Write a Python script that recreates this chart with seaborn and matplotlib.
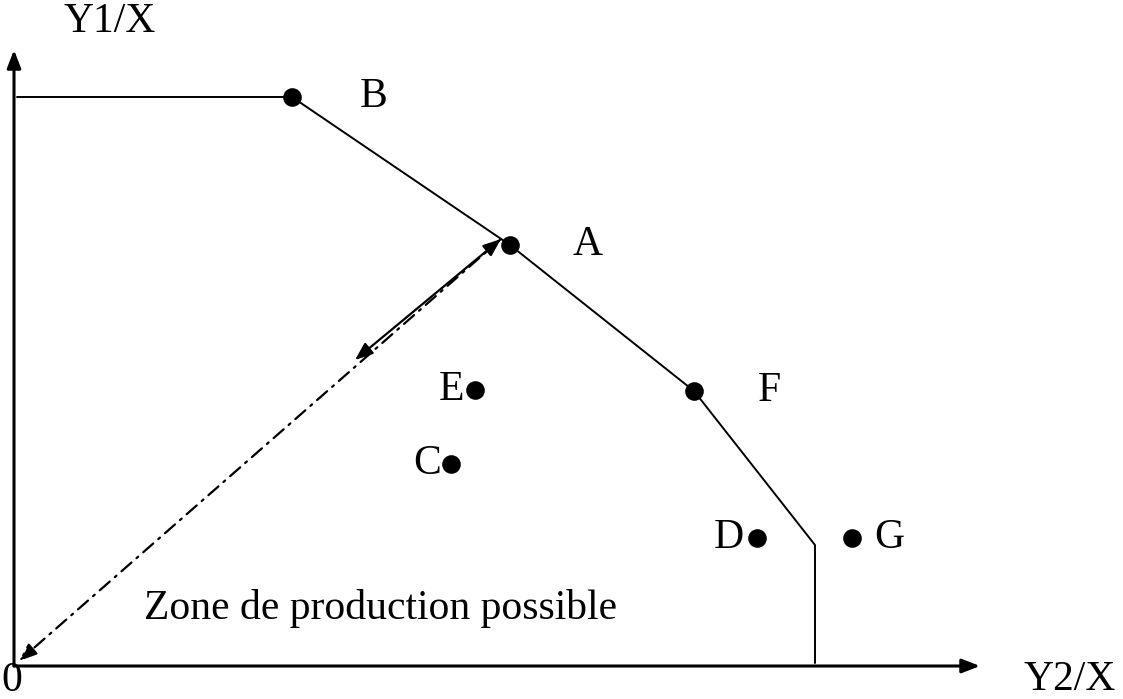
import matplotlib
matplotlib.use("Agg")
import matplotlib.pyplot as plt
import seaborn as sns
import pandas as pd

sns.set_theme(style="white")
plt.rcParams['font.family'] = ['Liberation Serif', 'DejaVu Serif']
plt.rcParams['text.color'] = 'black'

# Data (units relative to origin)
point_names = ["B", "A", "F", "E", "C", "D", "G"]
point_x = [275, 493, 677, 458, 434, 740, 835]
point_y = [566, 418, 272, 273, 199, 125, 125]

frontier_x = [0, 275, 493, 677, 798, 798]
frontier_y = [566, 566, 418, 272, 118, 0]

ray_start = (338, 303)   # start of solid double arrow
ray_end = (484, 424)     # near A

# label placement (style)
label_offset = {"B": 68, "A": 63, "F": 64, "E": -11, "C": -10, "D": -13, "G": 22}

FS = 30

fig = plt.figure(figsize=(11.23, 6.99), dpi=100)
ax = fig.add_axes([0, 0, 1, 1])
ax.set_xlim(-17, 1106)
ax.set_ylim(-36, 663)
ax.axis("off")

front = pd.DataFrame({"x": frontier_x, "y": frontier_y})
sns.lineplot(data=front, x="x", y="y", sort=False, estimator=None, color="black", lw=1.4, ax=ax)

pts = pd.DataFrame({"x": point_x, "y": point_y, "name": point_names})
sns.scatterplot(data=pts, x="x", y="y", color="black", s=180, edgecolor="black", linewidth=0, ax=ax, zorder=5)

for n, x, y in zip(point_names, point_x, point_y):
    off = label_offset[n]
    ax.text(x + off, y, n, fontsize=FS, ha="left" if off > 0 else "right", va="center", color="black")

# Axes with arrows
ax.annotate("", xy=(-3, 613), xytext=(-3, -3),
            arrowprops=dict(arrowstyle="-|>,head_length=0.9,head_width=0.35", color="black", lw=2.2, shrinkA=0, shrinkB=0))
ax.annotate("", xy=(963, -3), xytext=(-3, -3),
            arrowprops=dict(arrowstyle="-|>,head_length=0.9,head_width=0.35", color="black", lw=2.2, shrinkA=0, shrinkB=0))

# Dash-dot ray from A to origin
ax.annotate("", xy=(2, 2), xytext=(ray_end[0], ray_end[1]),
            arrowprops=dict(arrowstyle="-|>,head_length=0.9,head_width=0.35", color="black", lw=1.6,
                            linestyle=(0, (6, 3, 1, 3)), shrinkA=0, shrinkB=0))
# Solid double arrow
ax.annotate("", xy=ray_start, xytext=ray_end,
            arrowprops=dict(arrowstyle="<|-|>,head_length=0.9,head_width=0.35", color="black", lw=1.6, shrinkA=0, shrinkB=0))

ax.text(93, 641, "Y1/X", fontsize=FS, ha="center", va="center", color="black")
ax.text(1053, -17, "Y2/X", fontsize=FS, ha="center", va="center", color="black")
ax.text(-5, -18, "0", fontsize=FS, ha="center", va="center", color="black")
ax.text(364, 55, "Zone de production possible", fontsize=FS, ha="center", va="center", color="black")

fig.savefig("out.png", dpi=100)
